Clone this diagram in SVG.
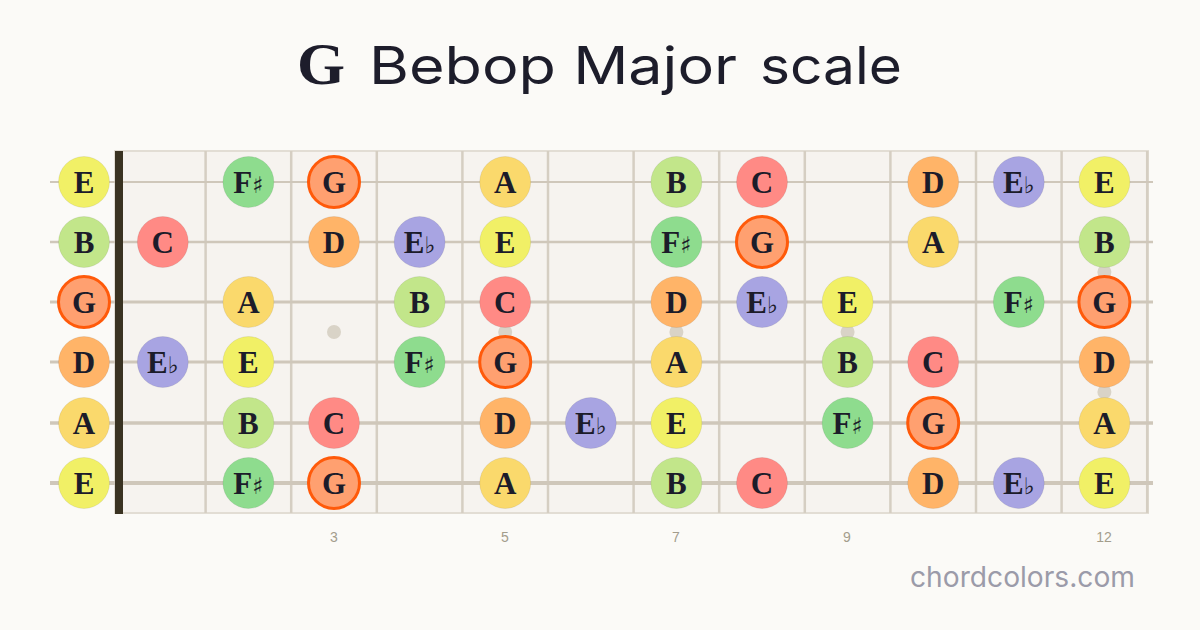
<svg xmlns="http://www.w3.org/2000/svg" width="1200" height="630" viewBox="0 0 1200 630">
<style>
.n circle{stroke:rgba(0,0,0,0.07);stroke-width:1}
.n text{font-family:"Liberation Serif","DejaVu Serif",serif;font-weight:bold;font-size:31px;fill:#1c1c2a;text-anchor:middle}
.n tspan.acc{font-family:"DejaVu Sans",sans-serif;font-weight:normal;font-size:23px}
.n.root circle{stroke:#ff5a0a;stroke-width:3}
.cE circle{fill:#f1f066}.cB circle{fill:#c2e68a}.cFs circle{fill:#8edc8e}.cG circle{fill:#ffa070}
.cA circle{fill:#fad96c}.cC circle{fill:#ff8a85}.cD circle{fill:#ffb468}.cEb circle{fill:#a8a4e2}
.fret{stroke:#d5cec2;stroke-width:2.5}
.str{stroke:#cfc7ba}
.dot{fill:#d9d3c7}
.fn{font-family:"Liberation Sans",Arial,sans-serif;font-size:14px;fill:#a39d8c;text-anchor:middle}
.ttl{font-family:Inter,"Noto Sans",sans-serif;font-weight:400;font-size:52px;fill:#1d1d2b}
</style>
<rect width="1200" height="630" fill="#fbfaf7"/>
<g id="title">
<text x="297" y="84" font-family="'Liberation Serif',serif" font-weight="bold" font-size="59" fill="#1d1d2b" textLength="48" lengthAdjust="spacingAndGlyphs">G</text>
<text class="ttl" x="369" y="84" textLength="368" lengthAdjust="spacingAndGlyphs">Bebop Major</text>
<text class="ttl" x="760" y="84" textLength="142" lengthAdjust="spacingAndGlyphs">scale</text>
</g>
<g id="fretboard">
<rect x="115" y="151" width="1033" height="362" fill="#f6f3ef" stroke="#e2ddd4" stroke-width="2"/>
<g class="frets">
<line class="fret" x1="205.6" y1="151" x2="205.6" y2="513"/>
<line class="fret" x1="291.2" y1="151" x2="291.2" y2="513"/>
<line class="fret" x1="376.8" y1="151" x2="376.8" y2="513"/>
<line class="fret" x1="462.4" y1="151" x2="462.4" y2="513"/>
<line class="fret" x1="548" y1="151" x2="548" y2="513"/>
<line class="fret" x1="633.6" y1="151" x2="633.6" y2="513"/>
<line class="fret" x1="719.2" y1="151" x2="719.2" y2="513"/>
<line class="fret" x1="804.8" y1="151" x2="804.8" y2="513"/>
<line class="fret" x1="890.4" y1="151" x2="890.4" y2="513"/>
<line class="fret" x1="976" y1="151" x2="976" y2="513"/>
<line class="fret" x1="1061.6" y1="151" x2="1061.6" y2="513"/>
<line class="fret" x1="1147.2" y1="151" x2="1147.2" y2="513"/>
</g>
<g class="inlays">
<circle class="dot" cx="334" cy="332" r="7"/>
<circle class="dot" cx="505.2" cy="332" r="7"/>
<circle class="dot" cx="676.4" cy="332" r="7"/>
<circle class="dot" cx="847.6" cy="332" r="7"/>
<circle class="dot" cx="1104.4" cy="272" r="7"/>
<circle class="dot" cx="1104.4" cy="392" r="7"/>
</g>
<g class="strings">
<line class="str" x1="50" y1="182" x2="1153" y2="182" stroke-width="2"/>
<line class="str" x1="50" y1="242" x2="1153" y2="242" stroke-width="2.4"/>
<line class="str" x1="50" y1="302" x2="1153" y2="302" stroke-width="2.8"/>
<line class="str" x1="50" y1="362" x2="1153" y2="362" stroke-width="3.2"/>
<line class="str" x1="50" y1="423" x2="1153" y2="423" stroke-width="3.6"/>
<line class="str" x1="50" y1="483" x2="1153" y2="483" stroke-width="4"/>
</g>
<rect id="nut" x="115" y="151" width="8" height="363" fill="#3a3322"/>
</g>
<g id="fret-numbers">
<text class="fn" x="334" y="542">3</text>
<text class="fn" x="505" y="542">5</text>
<text class="fn" x="676" y="542">7</text>
<text class="fn" x="847" y="542">9</text>
<text class="fn" x="1104" y="542">12</text>
</g>
<g id="notes">
<g id="s1f0" class="n cE" transform="translate(84,182)"><circle r="25.5"/><text y="10.5">E</text></g>
<g id="s1f2" class="n cFs" transform="translate(248.4,182)"><circle r="25.5"/><text y="10.5">F<tspan class="acc">♯</tspan></text></g>
<g id="s1f3" class="n cG root" transform="translate(334,182)"><circle r="25.5"/><text y="10.5">G</text></g>
<g id="s1f5" class="n cA" transform="translate(505.2,182)"><circle r="25.5"/><text y="10.5">A</text></g>
<g id="s1f7" class="n cB" transform="translate(676.4,182)"><circle r="25.5"/><text y="10.5">B</text></g>
<g id="s1f8" class="n cC" transform="translate(762,182)"><circle r="25.5"/><text y="10.5">C</text></g>
<g id="s1f10" class="n cD" transform="translate(933.2,182)"><circle r="25.5"/><text y="10.5">D</text></g>
<g id="s1f11" class="n cEb" transform="translate(1018.8,182)"><circle r="25.5"/><text y="10.5">E<tspan class="acc">♭</tspan></text></g>
<g id="s1f12" class="n cE" transform="translate(1104.4,182)"><circle r="25.5"/><text y="10.5">E</text></g>

<g id="s2f0" class="n cB" transform="translate(84,242)"><circle r="25.5"/><text y="10.5">B</text></g>
<g id="s2f1" class="n cC" transform="translate(162.8,242)"><circle r="25.5"/><text y="10.5">C</text></g>
<g id="s2f3" class="n cD" transform="translate(334,242)"><circle r="25.5"/><text y="10.5">D</text></g>
<g id="s2f4" class="n cEb" transform="translate(419.6,242)"><circle r="25.5"/><text y="10.5">E<tspan class="acc">♭</tspan></text></g>
<g id="s2f5" class="n cE" transform="translate(505.2,242)"><circle r="25.5"/><text y="10.5">E</text></g>
<g id="s2f7" class="n cFs" transform="translate(676.4,242)"><circle r="25.5"/><text y="10.5">F<tspan class="acc">♯</tspan></text></g>
<g id="s2f8" class="n cG root" transform="translate(762,242)"><circle r="25.5"/><text y="10.5">G</text></g>
<g id="s2f10" class="n cA" transform="translate(933.2,242)"><circle r="25.5"/><text y="10.5">A</text></g>
<g id="s2f12" class="n cB" transform="translate(1104.4,242)"><circle r="25.5"/><text y="10.5">B</text></g>

<g id="s3f0" class="n cG root" transform="translate(84,302)"><circle r="25.5"/><text y="10.5">G</text></g>
<g id="s3f2" class="n cA" transform="translate(248.4,302)"><circle r="25.5"/><text y="10.5">A</text></g>
<g id="s3f4" class="n cB" transform="translate(419.6,302)"><circle r="25.5"/><text y="10.5">B</text></g>
<g id="s3f5" class="n cC" transform="translate(505.2,302)"><circle r="25.5"/><text y="10.5">C</text></g>
<g id="s3f7" class="n cD" transform="translate(676.4,302)"><circle r="25.5"/><text y="10.5">D</text></g>
<g id="s3f8" class="n cEb" transform="translate(762,302)"><circle r="25.5"/><text y="10.5">E<tspan class="acc">♭</tspan></text></g>
<g id="s3f9" class="n cE" transform="translate(847.6,302)"><circle r="25.5"/><text y="10.5">E</text></g>
<g id="s3f11" class="n cFs" transform="translate(1018.8,302)"><circle r="25.5"/><text y="10.5">F<tspan class="acc">♯</tspan></text></g>
<g id="s3f12" class="n cG root" transform="translate(1104.4,302)"><circle r="25.5"/><text y="10.5">G</text></g>

<g id="s4f0" class="n cD" transform="translate(84,362)"><circle r="25.5"/><text y="10.5">D</text></g>
<g id="s4f1" class="n cEb" transform="translate(162.8,362)"><circle r="25.5"/><text y="10.5">E<tspan class="acc">♭</tspan></text></g>
<g id="s4f2" class="n cE" transform="translate(248.4,362)"><circle r="25.5"/><text y="10.5">E</text></g>
<g id="s4f4" class="n cFs" transform="translate(419.6,362)"><circle r="25.5"/><text y="10.5">F<tspan class="acc">♯</tspan></text></g>
<g id="s4f5" class="n cG root" transform="translate(505.2,362)"><circle r="25.5"/><text y="10.5">G</text></g>
<g id="s4f7" class="n cA" transform="translate(676.4,362)"><circle r="25.5"/><text y="10.5">A</text></g>
<g id="s4f9" class="n cB" transform="translate(847.6,362)"><circle r="25.5"/><text y="10.5">B</text></g>
<g id="s4f10" class="n cC" transform="translate(933.2,362)"><circle r="25.5"/><text y="10.5">C</text></g>
<g id="s4f12" class="n cD" transform="translate(1104.4,362)"><circle r="25.5"/><text y="10.5">D</text></g>

<g id="s5f0" class="n cA" transform="translate(84,423)"><circle r="25.5"/><text y="10.5">A</text></g>
<g id="s5f2" class="n cB" transform="translate(248.4,423)"><circle r="25.5"/><text y="10.5">B</text></g>
<g id="s5f3" class="n cC" transform="translate(334,423)"><circle r="25.5"/><text y="10.5">C</text></g>
<g id="s5f5" class="n cD" transform="translate(505.2,423)"><circle r="25.5"/><text y="10.5">D</text></g>
<g id="s5f6" class="n cEb" transform="translate(590.8,423)"><circle r="25.5"/><text y="10.5">E<tspan class="acc">♭</tspan></text></g>
<g id="s5f7" class="n cE" transform="translate(676.4,423)"><circle r="25.5"/><text y="10.5">E</text></g>
<g id="s5f9" class="n cFs" transform="translate(847.6,423)"><circle r="25.5"/><text y="10.5">F<tspan class="acc">♯</tspan></text></g>
<g id="s5f10" class="n cG root" transform="translate(933.2,423)"><circle r="25.5"/><text y="10.5">G</text></g>
<g id="s5f12" class="n cA" transform="translate(1104.4,423)"><circle r="25.5"/><text y="10.5">A</text></g>

<g id="s6f0" class="n cE" transform="translate(84,483)"><circle r="25.5"/><text y="10.5">E</text></g>
<g id="s6f2" class="n cFs" transform="translate(248.4,483)"><circle r="25.5"/><text y="10.5">F<tspan class="acc">♯</tspan></text></g>
<g id="s6f3" class="n cG root" transform="translate(334,483)"><circle r="25.5"/><text y="10.5">G</text></g>
<g id="s6f5" class="n cA" transform="translate(505.2,483)"><circle r="25.5"/><text y="10.5">A</text></g>
<g id="s6f7" class="n cB" transform="translate(676.4,483)"><circle r="25.5"/><text y="10.5">B</text></g>
<g id="s6f8" class="n cC" transform="translate(762,483)"><circle r="25.5"/><text y="10.5">C</text></g>
<g id="s6f10" class="n cD" transform="translate(933.2,483)"><circle r="25.5"/><text y="10.5">D</text></g>
<g id="s6f11" class="n cEb" transform="translate(1018.8,483)"><circle r="25.5"/><text y="10.5">E<tspan class="acc">♭</tspan></text></g>
<g id="s6f12" class="n cE" transform="translate(1104.4,483)"><circle r="25.5"/><text y="10.5">E</text></g>
</g>
<text x="1135" y="587" text-anchor="end" font-family="Inter,'Noto Sans',sans-serif" font-size="28" fill="#9b9ba9" textLength="225" lengthAdjust="spacingAndGlyphs">chordcolors.com</text>
</svg>
